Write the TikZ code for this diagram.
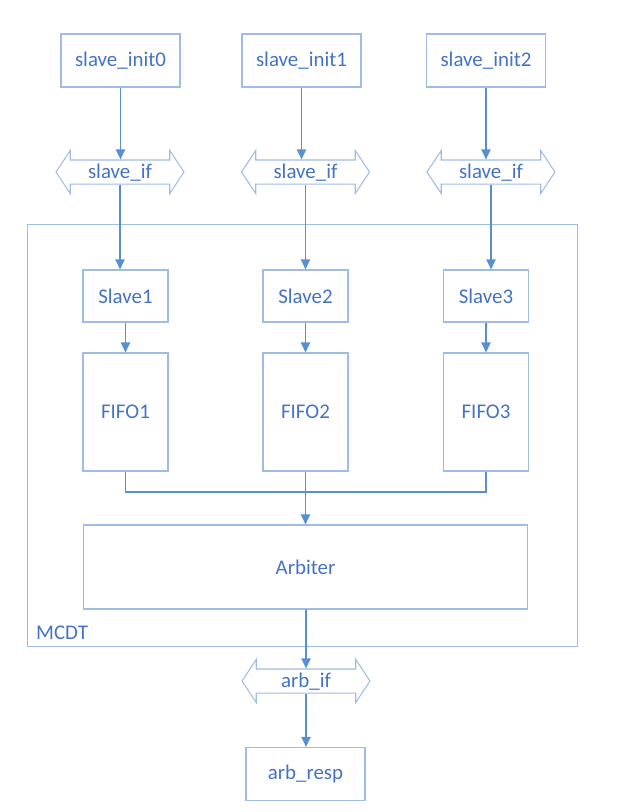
\documentclass[tikz,border=0pt]{standalone}
\usepackage{fontspec}
\setmainfont{Carlito}
\usetikzlibrary{arrows.meta,shapes.arrows}
\definecolor{boxline}{RGB}{160,188,226}
\definecolor{flowline}{RGB}{86,144,208}
\definecolor{labelblue}{RGB}{68,114,196}

\begin{document}
\begin{tikzpicture}[x=0.02cm, y=-0.02cm,
  every node/.style={font=\fontsize{11.9}{14}\selectfont, text=labelblue},
  box/.style={draw=boxline, line width=0.6pt, minimum width=2.38cm, minimum height=1.06cm, align=center},
  small/.style={box, minimum width=1.7cm, minimum height=1.04cm},
  fifo/.style={box, minimum width=1.7cm, minimum height=2.36cm},
  frame/.style={draw=boxline, line width=0.6pt, minimum width=11.02cm, minimum height=8.46cm},
  iface/.style={double arrow, draw=boxline, line width=0.6pt, minimum height=2.56cm,
    double arrow head extend=0.19cm, double arrow tip angle=113,
    inner ysep=0pt, text height=0.36cm, text depth=0.1cm},
  arrow/.style={-{Triangle[length=0.2cm, width=0.18cm]}, line width=1.1pt, draw=flowline},
  bus/.style={line width=1.1pt, draw=flowline}
]
\useasboundingbox (0,0) rectangle (617,812);
\node[frame] (mcdt) at (302.5,435.5) {};
\node[anchor=west] (mcdtlab) at (30,633) {MCDT};

\node[box] (init0) at (120.5,60.5) {slave\_init0};
\node[box] (init1) at (301.5,60.5) {slave\_init1};
\node[box] (init2) at (486,60.5) {slave\_init2};

\node[iface] (if0) at (120,172) {slave\_if};
\node[iface] (if1) at (305.5,172) {slave\_if};
\node[iface] (if2) at (491,172) {slave\_if};

\node[small] (s1) at (125.5,296) {Slave1};
\node[small] (s2) at (305.5,296) {Slave2};
\node[small] (s3) at (486,296) {Slave3};

\node[fifo] (f1) at (125.5,412) {FIFO1};
\node[fifo] (f2) at (305.5,412) {FIFO2};
\node[fifo] (f3) at (486,412) {FIFO3};

\node[box, minimum width=8.9cm, minimum height=1.68cm] (arb) at (305.5,567) {Arbiter};
\node[iface] (arbif) at (306,681) {arb\_if};
\node[box] (resp) at (305.5,774) {arb\_resp};

% interfaces
\draw[arrow] (init0) -- (init0 |- if0.north);
\draw[arrow] (init1) -- (init1 |- if1.north);
\draw[arrow] (init2) -- (init2 |- if2.north);
\draw[arrow] (if0.south) -- (if0.south |- s1.north);
\draw[arrow] (if1.south) -- (if1.south |- s2.north);
\draw[arrow] (if2.south) -- (if2.south |- s3.north);

% slaves to fifos
\draw[arrow] (s1) -- (f1);
\draw[arrow] (s2) -- (f2);
\draw[arrow] (s3) -- (f3);

% fifos to arbiter
\coordinate (join) at (305.5,492);
\draw[bus] (f1.south) |- (join) -| (f3.south);
\draw[arrow] (f2.south) -- (arb.north);

\draw[arrow] (arb.south -| arbif) -- (arbif.north);
\draw[arrow] (arbif.south) -- (arbif.south |- resp.north);
\end{tikzpicture}
\end{document}
